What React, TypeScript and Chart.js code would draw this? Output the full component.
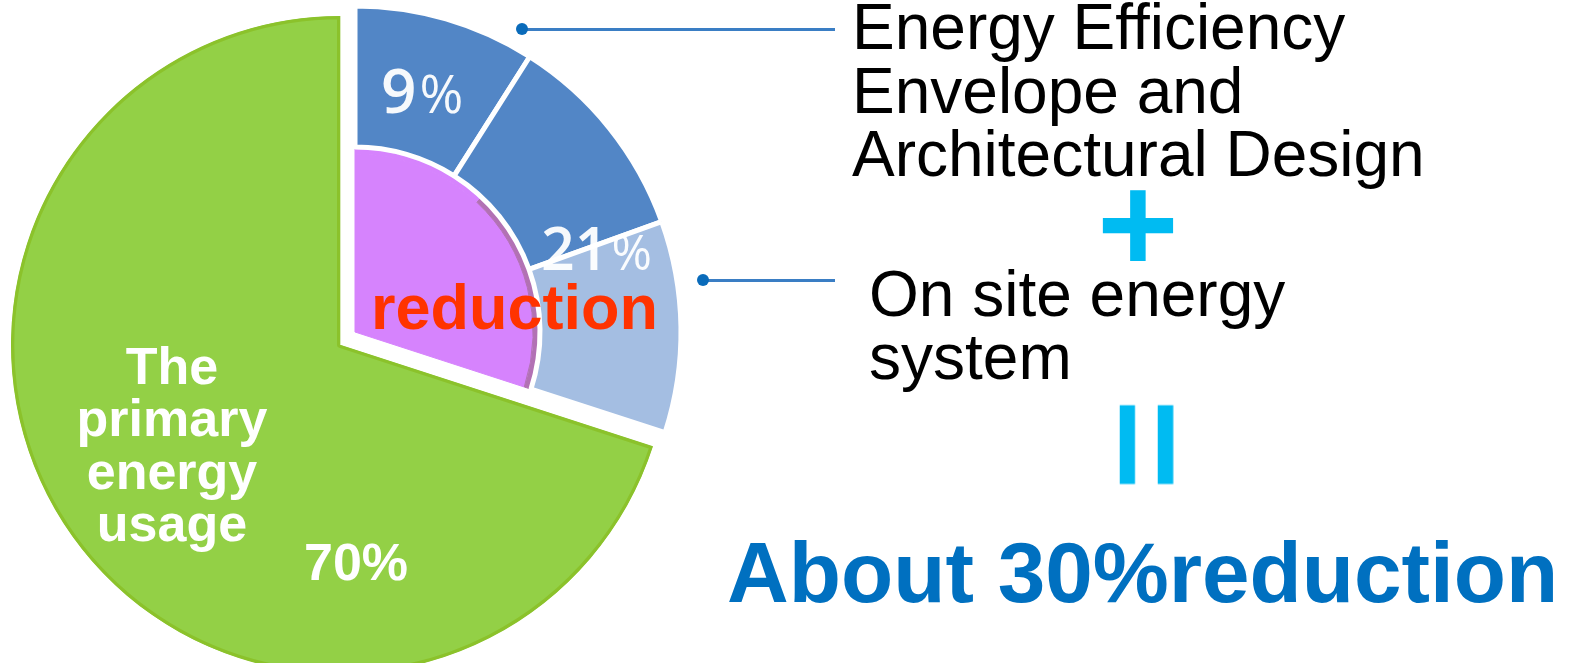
import React, { useEffect, useRef } from 'react';
import { Chart, registerables } from 'chart.js';

Chart.register(...registerables);

const W = 1573;
const H = 663;

// ---- data ----
const segmentLabels = [
  'Energy Efficiency Envelope and Architectural Design',
  'On site energy system (a)',
  'On site energy system (b)',
  'The primary energy usage',
];
const segmentValues = [9, 10.5, 10.5, 70];
const reductionTotal = 30;
const primaryShare = 70;
const reductionEdgeSplit = [12, 18];
const sliceLabels = ['9', '21', '70'];

// ---- styles ----
const BLUE = '#5286C6';
const LIGHT_BLUE = '#A4BEE2';
const PURPLE = '#D683FD';
const DARK_PURPLE = '#B271B4';
const GREEN = '#93D046';
const GREEN_EDGE = '#8BC22B';
const CLEAR = 'rgba(0,0,0,0)';
const SANS = '"Liberation Sans", Arial, sans-serif';
const OPEN = '"Open Sans", "Liberation Sans", sans-serif';

function padFor(cx: number, cy: number, s: number) {
  return { left: cx - s, right: W - cx - s, top: cy - s, bottom: H - cy - s };
}

const baseOptions = (cx: number, cy: number, radius: number) => ({
  animation: false as const,
  responsive: false,
  events: [] as any[],
  radius,
  layout: { padding: padFor(cx, cy, 300) },
  plugins: { legend: { display: false }, tooltip: { enabled: false }, title: { display: false } },
});

function Txt(props: any) {
  const {
    x, base, size, lh, k = 0.3465, family = SANS, weight = 400, color = '#000',
    align = 'left', width, children, style = {},
  } = props;
  const top = base - (lh / 2 + k * size);
  const left = align === 'center' ? x - width / 2 : x;
  return (
    <div
      style={{
        position: 'absolute', left, top, width, fontFamily: family, fontSize: size,
        lineHeight: lh + 'px', fontWeight: weight, color, textAlign: align,
        whiteSpace: 'pre', ...style,
      }}
    >
      {children}
    </div>
  );
}

export default function App() {
  const greenRef = useRef<HTMLCanvasElement>(null);
  const mainRef = useRef<HTMLCanvasElement>(null);

  useEffect(() => {
    const green = new Chart(greenRef.current!, {
      type: 'pie',
      data: {
        labels: ['reduction', segmentLabels[3]],
        datasets: [
          {
            data: [reductionTotal, primaryShare],
            backgroundColor: [CLEAR, GREEN],
            borderColor: [CLEAR, GREEN_EDGE],
            borderWidth: [0, 3],
            borderAlign: 'inner',
            hoverOffset: 0,
          } as any,
        ],
      },
      options: baseOptions(340, 345, 329) as any,
    });

    const main = new Chart(mainRef.current!, {
      type: 'pie',
      data: {
        labels: segmentLabels,
        datasets: [
          {
            data: segmentValues,
            backgroundColor: [BLUE, BLUE, LIGHT_BLUE, CLEAR],
            borderColor: '#ffffff',
            borderWidth: [5, 5, 5, 0],
            weight: 141,
            hoverOffset: 0,
          } as any,
          {
            data: [reductionTotal, primaryShare],
            backgroundColor: [CLEAR, CLEAR],
            borderWidth: 0,
            weight: 2,
            hoverOffset: 0,
          } as any,
          {
            data: [...reductionEdgeSplit, primaryShare],
            backgroundColor: [PURPLE, DARK_PURPLE, CLEAR],
            borderColor: [PURPLE, DARK_PURPLE, CLEAR],
            borderWidth: [1, 1, 0],
            weight: 5,
            hoverOffset: 0,
          } as any,
          {
            data: [reductionTotal, primaryShare],
            backgroundColor: [PURPLE, CLEAR],
            borderColor: [PURPLE, CLEAR],
            borderWidth: [1, 0],
            weight: 178,
            hoverOffset: 0,
          } as any,
        ],
      },
      options: baseOptions(355, 332, 326) as any,
    });

    return () => {
      green.destroy();
      main.destroy();
    };
  }, []);

  const pctSpan = (sz: number, gap: number) => (
    <span style={{ fontSize: sz, lineHeight: 0, marginLeft: gap, fontWeight: 400 }}>%</span>
  );

  return (
    <div style={{ position: 'absolute', left: 0, top: 0, width: W, height: H, overflow: 'hidden', background: '#fff' }}>
      <canvas ref={greenRef} width={W} height={H} style={{ position: 'absolute', left: 0, top: 0 }} />
      <canvas ref={mainRef} width={W} height={H} style={{ position: 'absolute', left: 0, top: 0 }} />

      {/* leader lines */}
      <div style={{ position: 'absolute', left: 522, top: 28, width: 313, height: 3, background: '#3A7EC4' }} />
      <div style={{ position: 'absolute', left: 516, top: 23, width: 12, height: 12, borderRadius: 6, background: '#0A6BBA' }} />
      <div style={{ position: 'absolute', left: 703, top: 279, width: 132, height: 3, background: '#3A7EC4' }} />
      <div style={{ position: 'absolute', left: 697, top: 274, width: 12, height: 12, borderRadius: 6, background: '#0A6BBA' }} />

      {/* slice labels */}
      <Txt x={381} base={113} size={62} lh={62} k={0.388} family={OPEN} weight={600} color="rgba(255,255,255,0.95)">
        {sliceLabels[0]}{pctSpan(53, 3)}
      </Txt>
      <Txt x={541} base={270} size={59} lh={59} k={0.388} family={OPEN} weight={600} color="rgba(255,255,255,0.95)">
        {sliceLabels[1]}{pctSpan(49, 3)}
      </Txt>
      <Txt x={371} base={329} size={63} lh={63} weight={700} color="#FF3300">reduction</Txt>
      <Txt x={172} width={300} align="center" base={384} size={52} lh={52.6} weight={700} color="#ffffff">
        {'The\nprimary\nenergy\nusage'}
      </Txt>
      <Txt x={304} base={580} size={52} lh={52} weight={700} color="#ffffff">{sliceLabels[2] + '%'}</Txt>

      {/* right side text */}
      <Txt x={852} base={50} size={64} lh={63.5} color="#000">
        {'Energy Efficiency\nEnvelope and\nArchitectural Design'}
      </Txt>
      <div
        style={{
          position: 'absolute', left: 1088, top: 153.8, width: 100, fontFamily: SANS, fontSize: 140,
          lineHeight: '140px', fontWeight: 700, color: '#00BBF2', textAlign: 'center',
        }}
      >
        +
      </div>
      <Txt x={869} base={317} size={64} lh={63} color="#000">{'On site energy\nsystem'}</Txt>
      <div
        style={{
          position: 'absolute', left: 1089, top: 365.8, width: 120, fontFamily: SANS, fontSize: 157,
          lineHeight: '157px', fontWeight: 700, color: '#00BBF2', textAlign: 'center',
          transform: 'rotate(90deg) scaleY(0.9)', transformOrigin: '60px 78.5px',
        }}
      >
        =
      </div>
      <Txt x={727} base={603} size={85.5} lh={86} weight={700} color="#0070C0">About 30%reduction</Txt>
    </div>
  );
}
